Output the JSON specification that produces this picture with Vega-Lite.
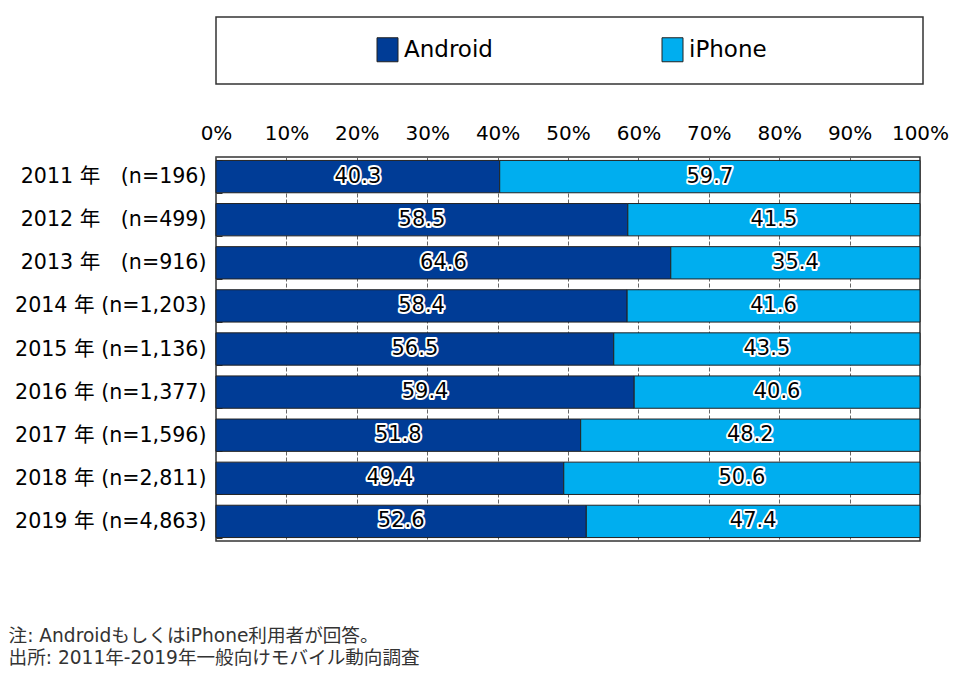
{
  "$schema": "https://vega.github.io/schema/vega-lite/v6.json",
  "autosize": "none",
  "width": 704,
  "height": 384,
  "padding": {"left": 216, "top": 157, "right": 40, "bottom": 132},
  "config": {
    "font": "DejaVu Sans, Noto Sans CJK JP",
    "view": {"stroke": "#333333", "strokeWidth": 1.5}
  },
  "title": {
    "text": ["注: AndroidもしくはiPhone利用者が回答。", "出所: 2011年-2019年一般向けモバイル動向調査"],
    "orient": "bottom",
    "anchor": "start",
    "frame": "bounds",
    "offset": 86,
    "fontSize": 18.6,
    "fontWeight": "normal",
    "color": "#333333",
    "lineHeight": 22,
    "dx": -6
  },
  "data": {
    "values": [
      {"year": "2011 年　(n=196)", "os": "Android", "order": 1, "value": 40.3},
      {"year": "2011 年　(n=196)", "os": "iPhone", "order": 2, "value": 59.7},
      {"year": "2012 年　(n=499)", "os": "Android", "order": 1, "value": 58.5},
      {"year": "2012 年　(n=499)", "os": "iPhone", "order": 2, "value": 41.5},
      {"year": "2013 年　(n=916)", "os": "Android", "order": 1, "value": 64.6},
      {"year": "2013 年　(n=916)", "os": "iPhone", "order": 2, "value": 35.4},
      {"year": "2014 年 (n=1,203)", "os": "Android", "order": 1, "value": 58.4},
      {"year": "2014 年 (n=1,203)", "os": "iPhone", "order": 2, "value": 41.6},
      {"year": "2015 年 (n=1,136)", "os": "Android", "order": 1, "value": 56.5},
      {"year": "2015 年 (n=1,136)", "os": "iPhone", "order": 2, "value": 43.5},
      {"year": "2016 年 (n=1,377)", "os": "Android", "order": 1, "value": 59.4},
      {"year": "2016 年 (n=1,377)", "os": "iPhone", "order": 2, "value": 40.6},
      {"year": "2017 年 (n=1,596)", "os": "Android", "order": 1, "value": 51.8},
      {"year": "2017 年 (n=1,596)", "os": "iPhone", "order": 2, "value": 48.2},
      {"year": "2018 年 (n=2,811)", "os": "Android", "order": 1, "value": 49.4},
      {"year": "2018 年 (n=2,811)", "os": "iPhone", "order": 2, "value": 50.6},
      {"year": "2019 年 (n=4,863)", "os": "Android", "order": 1, "value": 52.6},
      {"year": "2019 年 (n=4,863)", "os": "iPhone", "order": 2, "value": 47.4}
    ]
  },
  "transform": [
    {"stack": "value", "groupby": ["year"], "sort": [{"field": "order", "order": "ascending"}], "as": ["v0", "v1"]},
    {"calculate": "(datum.v0 + datum.v1) / 2", "as": "mid"}
  ],
  "encoding": {
    "y": {
      "field": "year",
      "type": "nominal",
      "sort": null,
      "title": null,
      "scale": {"paddingInner": 0.25, "paddingOuter": 0.08},
      "axis": {
        "domain": false,
        "ticks": true,
        "tickBand": "extent",
        "tickSize": -6,
        "tickColor": "#333333",
        "labelFontSize": 20.6,
        "labelColor": "#000000",
        "labelPadding": 16,
        "labelLimit": 300
      }
    }
  },
  "layer": [
    {
      "mark": {"type": "bar", "stroke": "#222222", "strokeWidth": 1},
      "encoding": {
        "x": {
          "field": "v0",
          "type": "quantitative",
          "title": null,
          "scale": {"domain": [0, 100], "nice": false},
          "axis": {
            "orient": "top",
            "values": [0, 10, 20, 30, 40, 50, 60, 70, 80, 90, 100],
            "labelExpr": "datum.value + '%'",
            "labelFlush": false,
            "labelOverlap": false,
            "domain": false,
            "ticks": false,
            "labelFontSize": 20,
            "labelColor": "#000000",
            "labelPadding": 14,
            "grid": true,
            "gridColor": "#666666",
            "gridDash": [4, 2],
            "gridWidth": 1
          }
        },
        "x2": {"field": "v1"},
        "color": {
          "field": "os",
          "type": "nominal",
          "scale": {"domain": ["Android", "iPhone"], "range": ["#003C96", "#00AEEF"]},
          "legend": {
            "title": ".",
            "titleOrient": "right",
            "titleFontSize": 20,
            "titleColor": "transparent",
            "titlePadding": 128,
            "orient": "none",
            "legendX": 0,
            "legendY": -140,
            "direction": "horizontal",
            "padding": 20,
            "strokeColor": "#333333",
            "symbolType": "M-0.875,-1H0.875V1H-0.875Z",
            "symbolSize": 576,
            "symbolStrokeColor": "#222222",
            "symbolStrokeWidth": 1,
            "symbolOffset": 139,
            "labelOffset": 4,
            "labelFontSize": 23,
            "labelColor": "#000000",
            "columnPadding": 28,
            "encode": {"legend": {"update": {"strokeWidth": {"value": 1.5}}}}
          }
        }
      }
    },
    {
      "mark": {"type": "text", "fontSize": 21, "fill": "#ffffff", "stroke": "#ffffff", "strokeWidth": 4, "strokeJoin": "round", "baseline": "middle"},
      "encoding": {
        "x": {"field": "mid", "type": "quantitative"},
        "text": {"field": "value", "type": "quantitative", "format": ".1f"}
      }
    },
    {
      "mark": {"type": "text", "fontSize": 21, "fill": "#000000", "baseline": "middle"},
      "encoding": {
        "x": {"field": "mid", "type": "quantitative"},
        "text": {"field": "value", "type": "quantitative", "format": ".1f"}
      }
    }
  ]
}
